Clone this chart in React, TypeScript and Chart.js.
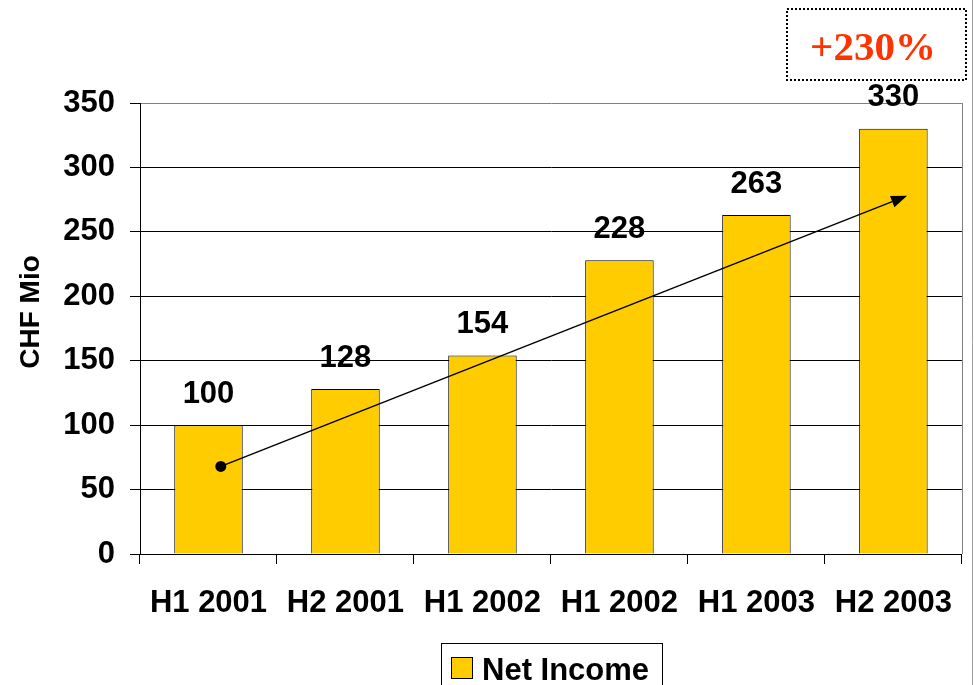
import React, { useEffect, useRef } from "react";
import { Chart, registerables } from "chart.js";

Chart.register(...registerables);

const categories = ["H1 2001", "H2 2001", "H1 2002", "H1 2002", "H1 2003", "H2 2003"];
const netIncome = [100, 128, 154, 228, 263, 330];
const yTicks = [0, 50, 100, 150, 200, 250, 300, 350];
const seriesLabel = "Net Income";
const axisTitle = "CHF Mio";
const growthLabel = "+230%";
// trend arrow: [category index, value]
const arrowStart = [0.09, 68];
const arrowEnd = [5.1, 278];

const W = 974;
const H = 685;
const FONT = "'Liberation Sans', Arial, sans-serif";

export default function App() {
  const ref = useRef<HTMLCanvasElement | null>(null);

  useEffect(() => {
    if (!ref.current) return;
    const overlay = {
      id: "overlay",
      afterDatasetsDraw(chart: any) {
        const ctx = chart.ctx;
        const xs = chart.scales.x;
        const ys = chart.scales.y;
        const area = chart.chartArea;
        ctx.save();
        // right plot border
        ctx.strokeStyle = "#808080";
        ctx.lineWidth = 1;
        ctx.beginPath();
        ctx.moveTo(Math.round(area.right) + 0.5, area.top);
        ctx.lineTo(Math.round(area.right) + 0.5, area.bottom);
        ctx.stroke();

        // data labels
        ctx.fillStyle = "#000";
        ctx.font = `bold 31px ${FONT}`;
        ctx.textAlign = "center";
        ctx.textBaseline = "middle";
        const meta = chart.getDatasetMeta(0);
        meta.data.forEach((bar: any, i: number) => {
          ctx.fillText(String(netIncome[i]), bar.x, bar.y - 31);
        });

        // arrow
        const x1 = xs.getPixelForValue(arrowStart[0]);
        const y1 = ys.getPixelForValue(arrowStart[1]);
        const x2 = xs.getPixelForValue(arrowEnd[0]);
        const y2 = ys.getPixelForValue(arrowEnd[1]);
        const ang = Math.atan2(y2 - y1, x2 - x1);
        const hl = 16;
        const hw = 6;
        const bx = x2 - hl * Math.cos(ang);
        const by = y2 - hl * Math.sin(ang);
        ctx.strokeStyle = "#000";
        ctx.lineWidth = 1.5;
        ctx.beginPath();
        ctx.moveTo(x1, y1);
        ctx.lineTo(bx, by);
        ctx.stroke();
        ctx.fillStyle = "#000";
        ctx.beginPath();
        ctx.moveTo(x2, y2);
        ctx.lineTo(bx + hw * Math.sin(ang), by - hw * Math.cos(ang));
        ctx.lineTo(bx - hw * Math.sin(ang), by + hw * Math.cos(ang));
        ctx.closePath();
        ctx.fill();
        ctx.beginPath();
        ctx.arc(x1, y1, 5.5, 0, Math.PI * 2);
        ctx.fill();

        // y axis title
        ctx.save();
        ctx.translate(31, 312);
        ctx.rotate(-Math.PI / 2);
        ctx.font = `bold 28px ${FONT}`;
        ctx.textAlign = "center";
        ctx.textBaseline = "middle";
        ctx.fillText(axisTitle, 0, 0);
        ctx.restore();

        // legend
        ctx.fillStyle = "#fff";
        ctx.fillRect(441, 643, 221, 50);
        ctx.strokeStyle = "#000";
        ctx.lineWidth = 1;
        ctx.strokeRect(441.5, 643.5, 221, 50);
        ctx.fillStyle = "#FFCC00";
        ctx.fillRect(451, 657, 22, 22);
        ctx.strokeRect(451.5, 657.5, 21, 21);
        ctx.fillStyle = "#000";
        ctx.font = `bold 31px ${FONT}`;
        ctx.textAlign = "left";
        ctx.textBaseline = "alphabetic";
        ctx.fillText(seriesLabel, 482, 680);

        // growth box
        ctx.setLineDash([2, 2]);
        ctx.lineWidth = 2;
        ctx.strokeRect(787, 9, 179, 71);
        ctx.setLineDash([]);
        ctx.fillStyle = "#FF3300";
        ctx.font = "bold 41px 'Liberation Serif', 'Times New Roman', serif";
        ctx.textAlign = "center";
        ctx.textBaseline = "alphabetic";
        ctx.fillText(growthLabel, 873, 60);

        // page border
        ctx.strokeStyle = "#a0a0a0";
        ctx.lineWidth = 1;
        ctx.beginPath();
        ctx.moveTo(972.5, 0);
        ctx.lineTo(972.5, H);
        ctx.stroke();
        ctx.restore();
      },
    };

    const chart = new Chart(ref.current, {
      type: "bar",
      data: {
        labels: categories,
        datasets: [
          {
            label: seriesLabel,
            data: netIncome,
            backgroundColor: "#FFCC00",
            borderColor: "#000",
            borderWidth: 1,
            barPercentage: 0.5,
            categoryPercentage: 1,
          },
        ],
      },
      options: {
        animation: false,
        responsive: false,
        devicePixelRatio: 1,
        layout: { padding: { left: 0, top: 103, right: 12, bottom: 0 } },
        plugins: { legend: { display: false }, tooltip: { enabled: false } },
        scales: {
          x: {
            grid: {
              offset: true,
              drawOnChartArea: false,
              drawTicks: true,
              tickLength: 10,
              color: "#000",
            },
            border: { color: "#000", width: 1 },
            ticks: {
              color: "#000",
              font: { family: FONT, size: 31, weight: "bold" },
              padding: 21,
              maxRotation: 0,
              autoSkip: false,
            },
            afterFit(scale: any) {
              scale.height = 131;
            },
          },
          y: {
            min: 0,
            max: 350,
            afterBuildTicks(scale: any) {
              scale.ticks = yTicks.map((v) => ({ value: v }));
            },
            grid: {
              color: (c: any) => (c.tick && c.tick.value === 350 ? "#808080" : "#000"),
              tickColor: "#000",
              tickLength: 10,
              lineWidth: 1,
            },
            border: { color: "#000", width: 1 },
            ticks: {
              color: "#000",
              font: { family: FONT, size: 31, weight: "bold" },
              padding: 15,
            },
            afterFit(scale: any) {
              scale.width = 140;
            },
          },
        },
      },
      plugins: [overlay],
    });
    return () => chart.destroy();
  }, []);

  return (
    <div style={{ position: "fixed", left: 0, top: 0, width: W, height: H, background: "#fff" }}>
      <canvas ref={ref} width={W} height={H} style={{ width: W, height: H, display: "block" }} />
    </div>
  );
}
